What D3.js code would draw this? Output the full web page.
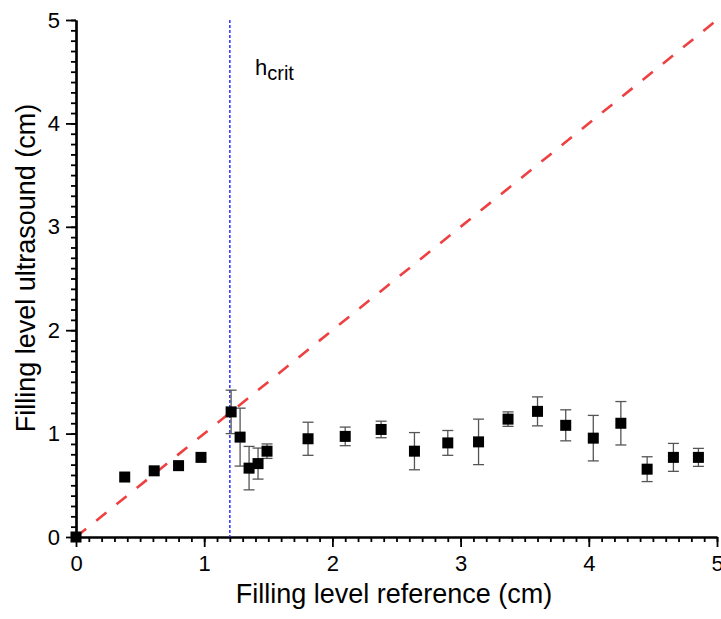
<!DOCTYPE html>
<html>
<head>
<meta charset="utf-8">
<script src="https://d3js.org/d3.v7.min.js"></script>
<style>
  body { margin: 0; background: #ffffff; }
  text { font-family: "Liberation Sans", Arial, sans-serif; fill: #000000; }
</style>
</head>
<body>
<svg></svg>
<script>
// measured reference level (cm)
var refLevel = [0, 0.38, 0.61, 0.80, 0.975, 1.21, 1.28, 1.35, 1.42, 1.49, 1.81, 2.10,
                2.38, 2.64, 2.90, 3.14, 3.37, 3.60, 3.82, 4.035, 4.25, 4.455, 4.66, 4.855];
// ultrasound level (cm)
var usLevel = [0, 0.58, 0.64, 0.69, 0.77, 1.21, 0.966, 0.666, 0.71, 0.83, 0.95, 0.973,
               1.04, 0.83, 0.91, 0.92, 1.14, 1.215, 1.08, 0.956, 1.10, 0.656, 0.77, 0.77];
// error (+/-) of ultrasound level
var usError = [0, 0, 0, 0, 0, 0.21, 0.28, 0.21, 0.15, 0.07, 0.16, 0.09,
               0.08, 0.18, 0.12, 0.22, 0.07, 0.14, 0.15, 0.22, 0.21, 0.12, 0.135, 0.087];
var majorTicks = [0, 1, 2, 3, 4, 5];
var hCrit = 1.2;

var points = refLevel.map(function(d, i) {
    return { x: d, y: usLevel[i], e: usError[i] };
});

var svgWidth = 721, svgHeight = 619;
var plotLeft = 76, plotRight = 717, plotTop = 20, plotBottom = 537;

var svg = d3.select("svg")
    .attr("width", svgWidth)
    .attr("height", svgHeight);

var xScale = d3.scaleLinear().domain([0, 5]).range([plotLeft, plotRight]);
var yScale = d3.scaleLinear().domain([0, 5]).range([plotBottom, plotTop]);

var minorTicks = d3.range(0, 51).map(function(d) { return d / 10; });

// minor ticks first, then major
svg.append("g")
    .attr("class", "axis")
    .attr("transform", "translate(0," + plotBottom + ")")
    .call(d3.axisBottom(xScale).tickValues(minorTicks).tickSize(5).tickSizeOuter(0).tickFormat(""));
svg.append("g")
    .attr("class", "axis")
    .attr("transform", "translate(0," + plotBottom + ")")
    .call(d3.axisBottom(xScale).tickValues(majorTicks).tickSize(10).tickSizeOuter(0).tickPadding(8)
          .tickFormat(d3.format("d")));

svg.append("g")
    .attr("class", "axis")
    .attr("transform", "translate(" + plotLeft + ",0)")
    .call(d3.axisLeft(yScale).tickValues(minorTicks).tickSize(5).tickSizeOuter(0).tickFormat(""));
svg.append("g")
    .attr("class", "axis")
    .attr("transform", "translate(" + plotLeft + ",0)")
    .call(d3.axisLeft(yScale).tickValues(majorTicks).tickSize(10).tickSizeOuter(0).tickPadding(6)
          .tickFormat(d3.format("d")));

svg.selectAll(".axis path").attr("stroke", "#000").attr("stroke-width", 2.2);
svg.selectAll(".axis line").attr("stroke", "#000").attr("stroke-width", 1.8);
svg.selectAll(".axis text")
    .style("font-family", "'Liberation Sans', Arial, sans-serif")
    .style("font-size", "22px")
    .attr("fill", "#000");

// y = x line
svg.append("line")
    .attr("x1", xScale(0)).attr("y1", yScale(0))
    .attr("x2", xScale(5.02)).attr("y2", yScale(5.02))
    .attr("stroke", "#ee4040")
    .attr("stroke-width", 2.6)
    .attr("stroke-dasharray", "13,13");

// critical height
svg.append("line")
    .attr("x1", xScale(hCrit)).attr("y1", yScale(5))
    .attr("x2", xScale(hCrit)).attr("y2", yScale(0))
    .attr("stroke", "#2f2fff")
    .attr("stroke-width", 1.5)
    .attr("stroke-dasharray", "3,2");

var hLabel = svg.append("text")
    .attr("x", 255)
    .attr("y", 75)
    .style("font-size", "22px");
hLabel.append("tspan").text("h");
hLabel.append("tspan").attr("dy", 5).style("font-size", "20px").text("crit");

// error bars
var bars = svg.selectAll(".err")
    .data(points.filter(function(d) { return d.e > 0; }))
    .enter()
    .append("g")
    .attr("class", "err")
    .attr("stroke", "#555555")
    .attr("stroke-width", 1.3);
bars.append("line")
    .attr("x1", function(d) { return xScale(d.x); })
    .attr("x2", function(d) { return xScale(d.x); })
    .attr("y1", function(d) { return yScale(d.y + d.e); })
    .attr("y2", function(d) { return yScale(d.y - d.e); });
bars.append("line")
    .attr("x1", function(d) { return xScale(d.x) - 5.5; })
    .attr("x2", function(d) { return xScale(d.x) + 5.5; })
    .attr("y1", function(d) { return yScale(d.y + d.e); })
    .attr("y2", function(d) { return yScale(d.y + d.e); });
bars.append("line")
    .attr("x1", function(d) { return xScale(d.x) - 5.5; })
    .attr("x2", function(d) { return xScale(d.x) + 5.5; })
    .attr("y1", function(d) { return yScale(d.y - d.e); })
    .attr("y2", function(d) { return yScale(d.y - d.e); });

// squares
var sq = 11;
svg.selectAll(".pt")
    .data(points)
    .enter()
    .append("rect")
    .attr("class", "pt")
    .attr("x", function(d) { return xScale(d.x) - sq / 2; })
    .attr("y", function(d) { return yScale(d.y) - sq / 2; })
    .attr("width", sq)
    .attr("height", sq)
    .attr("fill", "#000");

// axis titles
svg.append("text")
    .attr("x", 394)
    .attr("y", 603)
    .attr("text-anchor", "middle")
    .style("font-size", "27px")
    .text("Filling level reference (cm)");

svg.append("text")
    .attr("transform", "translate(35,268) rotate(-90)")
    .attr("text-anchor", "middle")
    .style("font-size", "27px")
    .text("Filling level ultrasound (cm)");
</script>
</body>
</html>
